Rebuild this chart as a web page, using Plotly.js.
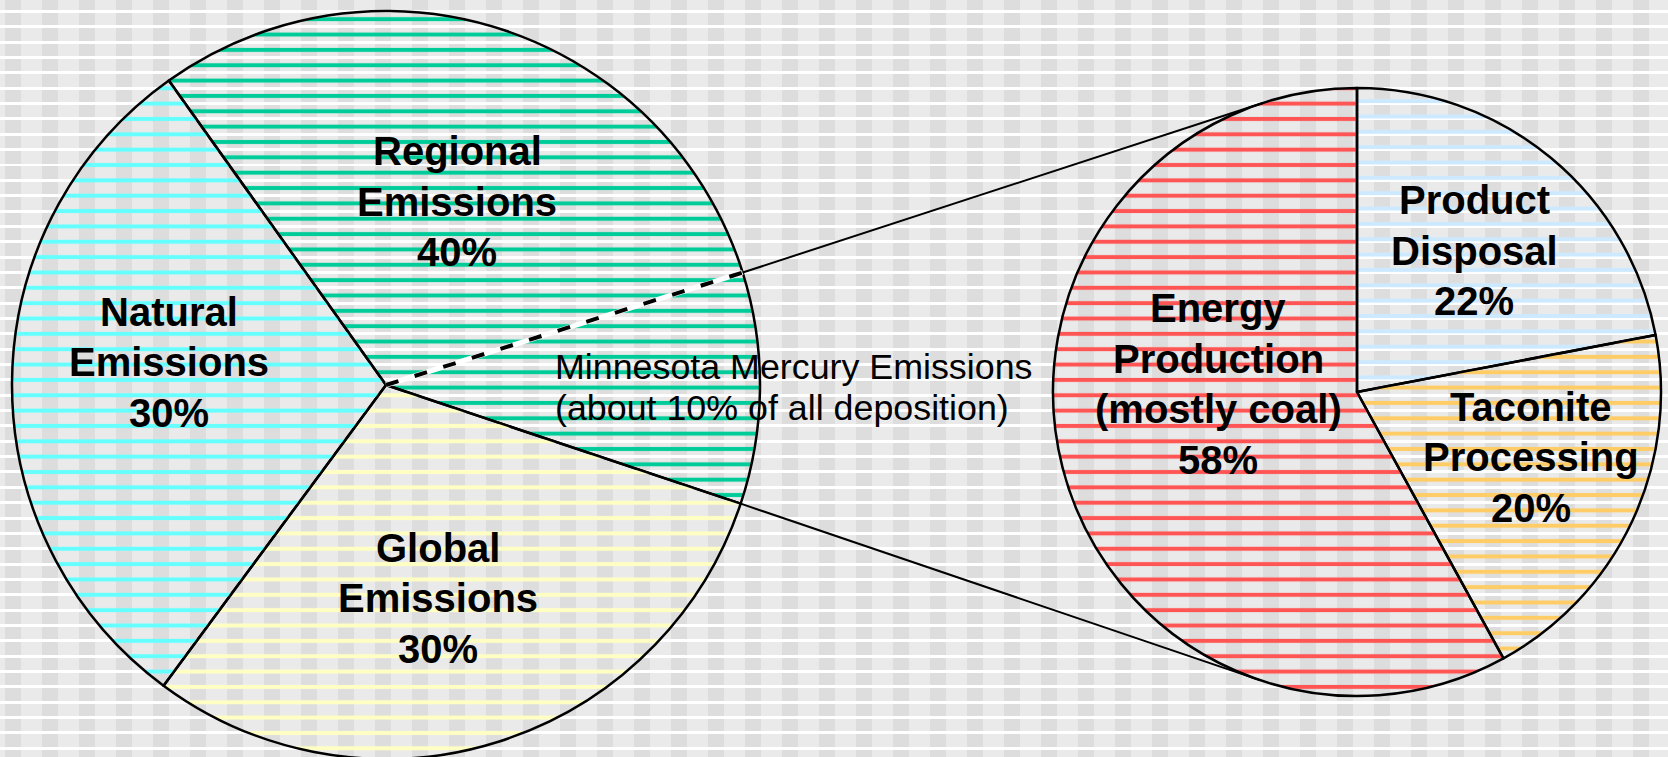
<!DOCTYPE html>
<html>
<head>
<meta charset="utf-8">
<script src="https://cdn.plot.ly/plotly-3.0.1.min.js"></script>
<style>
html, body { margin: 0; padding: 0; width: 1668px; height: 757px; overflow: hidden; }
#bg {
  position: absolute; left: 0; top: 0; width: 1668px; height: 757px;
  background-color: #eaeaea;
  background-image:
    repeating-linear-gradient(to bottom, rgba(255,255,255,0) 0px, rgba(255,255,255,0) 10px, #ffffff 10px, #ffffff 13px, rgba(255,255,255,0) 13px, rgba(255,255,255,0) 15.35px),
    repeating-linear-gradient(to right, #eaeaea 0px, #eaeaea 5px, #dddddd 5px, #dddddd 21px, #eaeaea 21px, #eaeaea 37px);
}
#chart { position: absolute; left: 0; top: 0; width: 1668px; height: 780px; }
</style>
</head>
<body>
<div id="bg"></div>
<div id="chart"></div>
<script>
// ---------------- DATA ----------------
const leftLabels = ['Regional Emissions', 'Global Emissions', 'Natural Emissions'];
const leftValues = [40, 30, 30];
const leftTextLines = [['Regional', 'Emissions'], ['Global', 'Emissions'], ['Natural', 'Emissions']];

const minnesotaShare = 10;   // part of the Regional slice, in % of the left pie
const minnesotaText = ['Minnesota Mercury Emissions', '(about 10% of all deposition)'];

const rightLabels = ['Product Disposal', 'Taconite Processing', 'Energy Production (mostly coal)'];
const rightValues = [22, 20, 58];
const rightTextLines = [['Product', 'Disposal'], ['Taconite', 'Processing'], ['Energy', 'Production', '(mostly coal)']];

// ---------------- STYLE / LAYOUT ----------------
const W = 1668, H = 780;
const leftColors = ['#00cc99', '#ffffc4', '#66ffff'];
const rightColors = ['#cce9ff', '#ffcc66', '#ff5555'];
const leftShift = [7.675, 0, 0];
const rightShift = [-2.5, 7.675, 0];
const leftDom = { x: [12 / W, 760 / W], y: [1 - 759 / H, 1 - 11 / H] };
const rightDom = { x: [1053 / W, 1661 / W], y: [1 - 696 / H, 1 - 88 / H] };
const leftRotation = -35.5, rightRotation = 0;
const leftLabelPos = [[457, 202], [438, 598], [169, 362]];
const rightLabelPos = [[1474, 251], [1531, 457], [1218, 384]];
const LINE_GAP = 50.5;
const FONT = 'Liberation Sans, Arial, Helvetica, sans-serif';

function geom(dom) {
  const w = W * (dom.x[1] - dom.x[0]), h = H * (dom.y[1] - dom.y[0]);
  return { cx: W * (dom.x[0] + dom.x[1]) / 2, cy: H * (1 - (dom.y[0] + dom.y[1]) / 2), r: Math.min(w, h) / 2 };
}
function ptAt(g, rotation, frac) {
  const a = rotation * Math.PI / 180 + 2 * Math.PI * frac;
  return [g.cx + g.r * Math.sin(a), g.cy - g.r * Math.cos(a)];
}
function tangent(P, g, upper) {
  const dx = g.cx - P[0], dy = g.cy - P[1];
  const L = Math.hypot(dx, dy);
  const th = Math.atan2(dy, dx), al = Math.asin(g.r / L), t = Math.sqrt(L * L - g.r * g.r);
  const ang = upper ? th - al : th + al;
  return [P[0] + t * Math.cos(ang), P[1] + t * Math.sin(ang)];
}
const px = x => x / W, py = y => 1 - y / H;

const gL = geom(leftDom), gR = geom(rightDom);
const totalL = leftValues.reduce((a, b) => a + b, 0);
const mnStart = ptAt(gL, leftRotation, (leftValues[0] - minnesotaShare) / totalL);
const mnEnd = ptAt(gL, leftRotation, leftValues[0] / totalL);
const tTop = tangent(mnStart, gR, true);
const tBot = tangent(mnEnd, gR, false);

const patternBase = { shape: '-', size: 15.35, solidity: 0.26, fillmode: 'replace', bgcolor: 'rgba(0,0,0,0)' };

const traces = [
  {
    type: 'pie', values: leftValues, labels: leftLabels, sort: false, direction: 'clockwise',
    rotation: leftRotation, domain: leftDom, textinfo: 'none', hoverinfo: 'none', showlegend: false,
    marker: { colors: leftColors, line: { color: '#000000', width: 2.5 },
      pattern: Object.assign({}, patternBase, { fgcolor: leftColors }) }
  },
  {
    type: 'pie', values: rightValues, labels: rightLabels, sort: false, direction: 'clockwise',
    rotation: rightRotation, domain: rightDom, textinfo: 'none', hoverinfo: 'none', showlegend: false,
    marker: { colors: rightColors, line: { color: '#000000', width: 2.5 },
      pattern: Object.assign({}, patternBase, { fgcolor: rightColors }) }
  }
];

const shapes = [
  { type: 'line', xref: 'paper', yref: 'paper', x0: px(gL.cx), y0: py(gL.cy), x1: px(mnStart[0]), y1: py(mnStart[1]),
    line: { color: '#ffffff', width: 5 } },
  { type: 'line', xref: 'paper', yref: 'paper', x0: px(gL.cx), y0: py(gL.cy), x1: px(mnStart[0]), y1: py(mnStart[1]),
    line: { color: '#000000', width: 4, dash: '13px,17px' } },
  { type: 'line', xref: 'paper', yref: 'paper', x0: px(mnStart[0]), y0: py(mnStart[1]), x1: px(tTop[0]), y1: py(tTop[1]),
    line: { color: '#000000', width: 2 } },
  { type: 'line', xref: 'paper', yref: 'paper', x0: px(mnEnd[0]), y0: py(mnEnd[1]), x1: px(tBot[0]), y1: py(tBot[1]),
    line: { color: '#000000', width: 2 } }
];

const annotations = [];
function addLabel(lines, value, pos) {
  const all = lines.concat([value + '%']);
  const n = all.length;
  all.forEach((t, i) => {
    annotations.push({
      xref: 'paper', yref: 'paper', x: px(pos[0]), y: py(pos[1] + (i - (n - 1) / 2) * LINE_GAP),
      xanchor: 'center', yanchor: 'middle', showarrow: false, align: 'center',
      text: '<b>' + t + '</b>',
      font: { family: FONT, size: 40, color: '#000000' }
    });
  });
}
leftTextLines.forEach((l, i) => addLabel(l, leftValues[i], leftLabelPos[i]));
rightTextLines.forEach((l, i) => addLabel(l, rightValues[i], rightLabelPos[i]));
minnesotaText.forEach((t, i) => annotations.push({
  xref: 'paper', yref: 'paper', x: px(553), y: py(367 + 40.5 * i), xanchor: 'left', yanchor: 'middle',
  showarrow: false, text: t, font: { family: FONT, size: 35.8, color: '#000000' }
}));

const layout = {
  width: W, height: H, margin: { l: 0, r: 0, t: 0, b: 0, pad: 0 },
  paper_bgcolor: 'rgba(0,0,0,0)', plot_bgcolor: 'rgba(0,0,0,0)',
  showlegend: false, shapes: shapes, annotations: annotations
};

function toRGB(c) {
  if (!c) return null;
  c = c.trim();
  if (c[0] === '#') {
    const h = c.slice(1);
    return [parseInt(h.slice(0, 2), 16), parseInt(h.slice(2, 4), 16), parseInt(h.slice(4, 6), 16)];
  }
  const m = c.match(/[\d.]+/g);
  return m ? m.slice(0, 3).map(Number) : null;
}
const shiftMap = [];
leftColors.forEach((c, i) => shiftMap.push([toRGB(c), leftShift[i]]));
rightColors.forEach((c, i) => shiftMap.push([toRGB(c), rightShift[i]]));

function fixPatterns() {
  document.querySelectorAll('#chart pattern').forEach(p => {
    const path = p.querySelector('path');
    if (!path) return;
    const col = toRGB(path.style.stroke || path.getAttribute('stroke'));
    if (!col) return;
    let shift = 0;
    shiftMap.forEach(([rgb, s]) => {
      if (Math.abs(rgb[0] - col[0]) < 3 && Math.abs(rgb[1] - col[1]) < 3 && Math.abs(rgb[2] - col[2]) < 3) shift = s;
    });
    const size = parseFloat(p.getAttribute('height')) || 15.35;
    const ty = 11.5 + shift - size / 2;
    p.setAttribute('patternTransform', 'translate(0,' + ty + ')');
  });
}

Plotly.newPlot('chart', traces, layout, { staticPlot: true, displayModeBar: false }).then(fixPatterns);
</script>
</body>
</html>
